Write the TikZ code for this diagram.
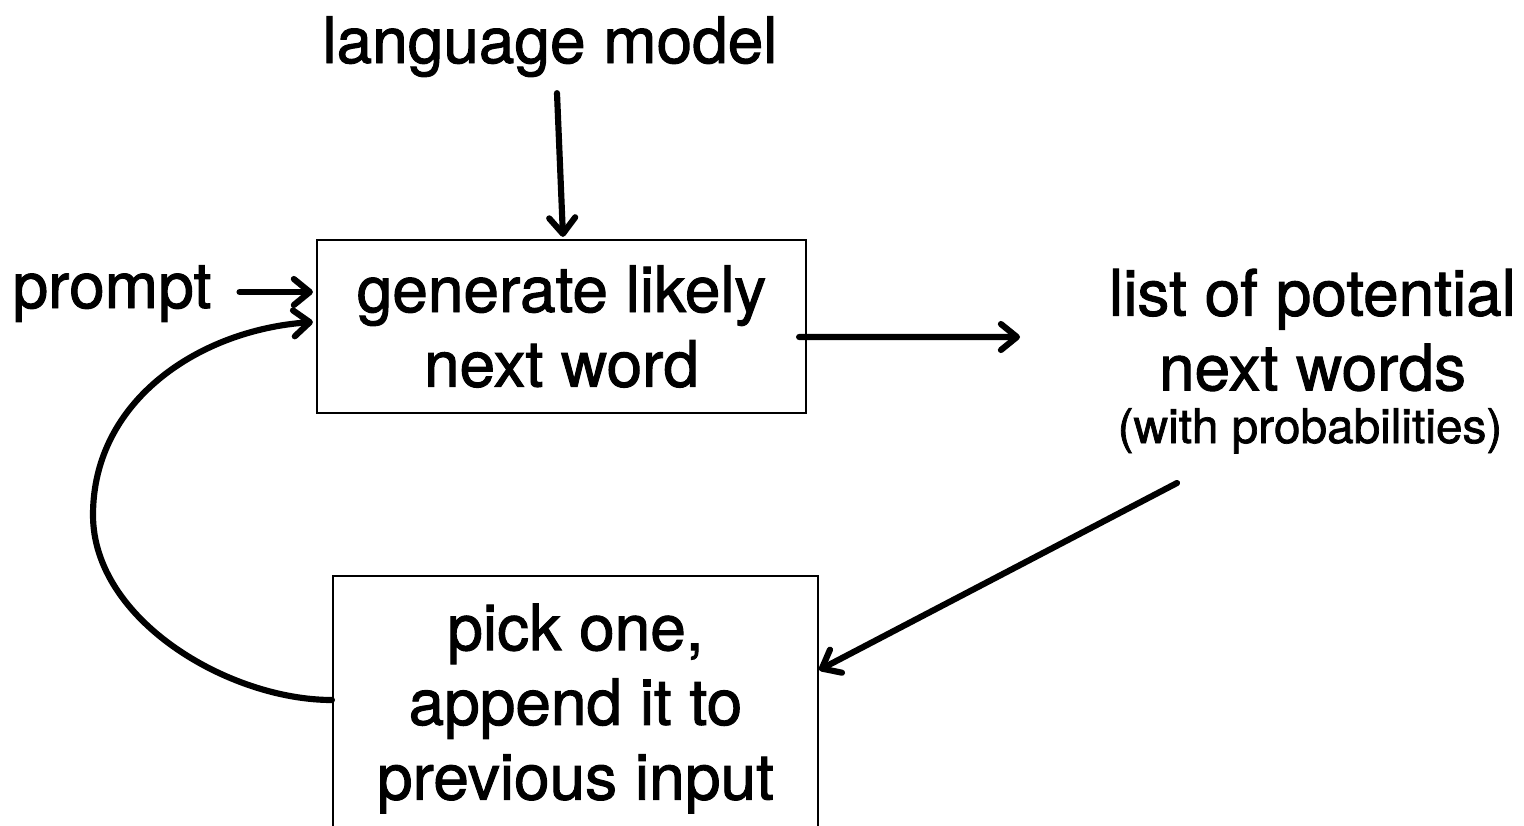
\documentclass[tikz,border=0pt]{standalone}
\usepackage{fontspec}
\setmainfont{TeX Gyre Heros}[FakeBold=1.5]
\usetikzlibrary{arrows.meta,calc}

\begin{document}
\begin{tikzpicture}[x=0.02cm, y=-0.02cm,
    >={Straight Barb[length=0.32cm,width=0.52cm,line cap=round,line join=round]},
    big/.style={font=\fontsize{36.4}{42.5}\selectfont, align=center},
    small/.style={font=\fontsize{27.2}{32}\selectfont},
    box/.style={draw, line width=1.3pt, big, inner sep=0pt},
    link/.style={->, line width=3.5pt, line cap=round}]
    \useasboundingbox (0,0) rectangle (1524,825);
    \clip (0,0) rectangle (1524,825);

    % Boxes
    \node[box, minimum width=9.78cm, minimum height=3.46cm] (gen) at (561.5,326.5) {generate likely\\next word};
    \node[box, minimum width=9.7cm, minimum height=5.3cm] (pick) at (575.5,708.5) {pick one,\\append it to\\previous input};

    % Labels
    \node[big, anchor=base] (lm) at (550,63) {language model};
    \node[big, anchor=base] (prompt) at (112,308) {prompt};
    \node[big] (words) at (1312.5,330) {list of potential\\next words};
    \node[small, anchor=base] (probs) at (1310,443) {(with probabilities)};

    % Free ends
    \coordinate (promptin) at ($(gen.west)+(-3,-34.5)$);
    \coordinate (loopin) at ($(gen.west)+(-3,-4.5)$);
    \coordinate (loopleft) at (93,515);
    \coordinate (outend) at (1020,337);
    \coordinate (probend) at (1177,483);

    % Arrows
    \draw[link] ($(lm.south)+(7,10)$) -- ($(gen.north)+(1.5,-2)$);
    \draw[link] (promptin -| prompt.east) ++(22,0) -- (promptin);
    \draw[link] ($(gen.east)+(-8,10.5)$) -- (outend);
    \draw[link] (probend) -- ($(pick.east)+(0,-38.5)$);
    \draw[link] ($(pick.west)+(0,-8.5)$) .. controls +(-103,0) and +(0,105) .. (loopleft)
        .. controls +(0,-115) and +(-113,8) .. (loopin);
\end{tikzpicture}
\end{document}
